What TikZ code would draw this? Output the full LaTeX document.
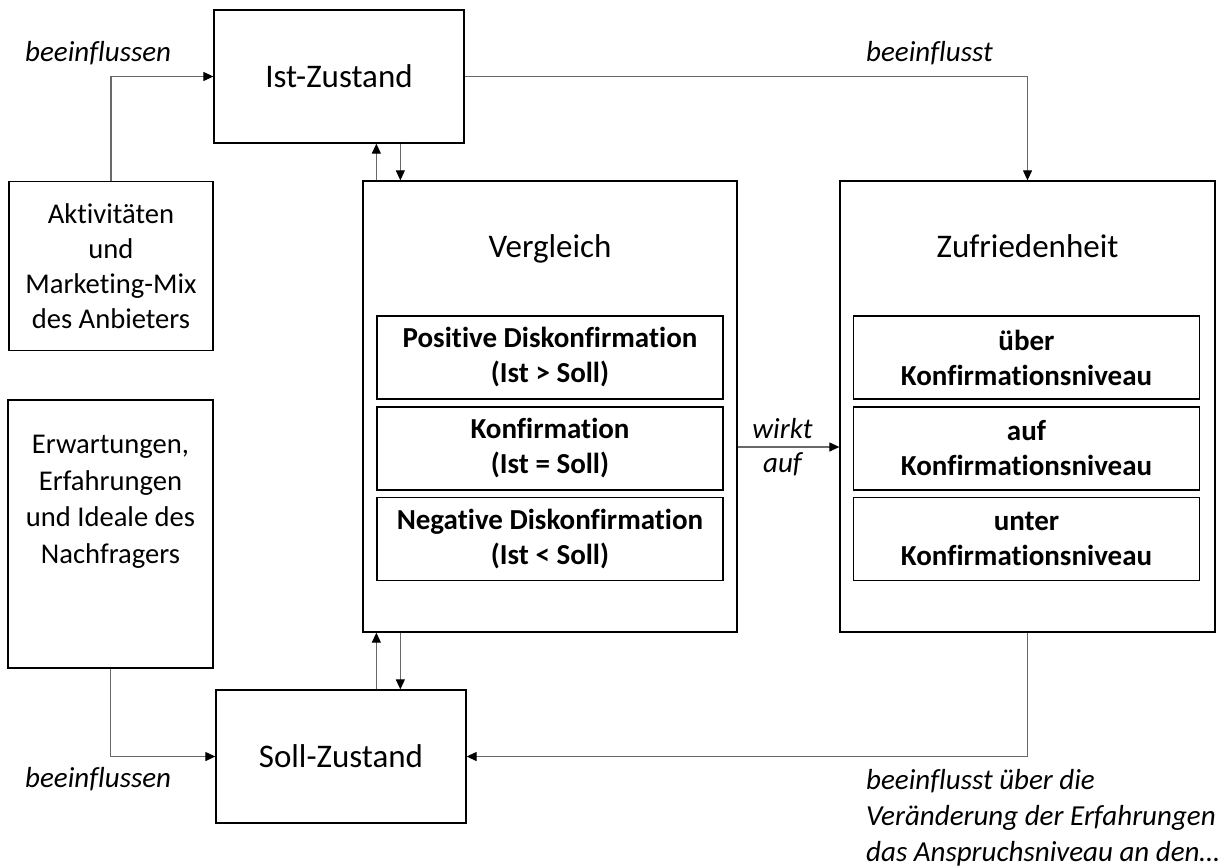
\documentclass[tikz,border=0pt]{standalone}
\usepackage{fontspec}
\setmainfont{Carlito}[Ligatures=NoCommon]
\usetikzlibrary{arrows.meta,calc}
\definecolor{linegray}{RGB}{105,105,105}
\begin{document}
\begin{tikzpicture}[x=1pt,y=-1pt,
  box/.style={draw=black,line width=1.3pt,rectangle,inner sep=0pt,align=center,
    font=\fontsize{28.6}{35}\selectfont},
  bigbox/.style={box,font=\fontsize{33}{40}\selectfont},
  txt/.style={inner sep=0pt,align=center,font=\fontsize{28.6}{36.5}\selectfont},
  title/.style={inner sep=0pt,anchor=base,font=\fontsize{33}{40}\selectfont},
  innerbox/.style={box,font=\fontsize{29}{35}\selectfont\bfseries,
    minimum width=346pt,minimum height=83pt},
  lbl/.style={inner sep=0pt,font=\fontsize{29}{36}\selectfont\itshape,align=left},
  conn/.style={draw=linegray,line width=1.2pt,
    -{Triangle[length=10pt,width=9pt,color=black]}}
]
\useasboundingbox (0,0) rectangle (1230,867);

% boxes
\node[bigbox,minimum width=250pt,minimum height=133pt] (ist) at (339,76.5) {Ist-Zustand};
\node[bigbox,minimum width=250pt,minimum height=133pt] (soll) at (341,756.5) {Soll-Zustand};
\node[box,minimum width=204pt,minimum height=169pt] (akt) at (111,266)
  {Aktivitäten\\und\\Marketing-Mix\\des Anbieters};
\node[box,minimum width=205pt,minimum height=268pt] (erw) at (110.5,534) {};
\node[txt] (erwt) at (110.5,502)
  {Erwartungen,\\Erfahrungen\\und Ideale des\\Nachfragers};
\node[box,minimum width=374pt,minimum height=451pt] (verg) at (550,406.5) {};
\node[box,minimum width=375pt,minimum height=451pt] (zuf) at (1027.5,406.5) {};
\node[title] (vergt) at (550,257) {Vergleich};
\node[title] (zuft) at (1027.5,257) {Zufriedenheit};

\node[innerbox] (v1) at (550,357.5) {Positive Diskonfirmation\\(Ist > Soll)};
\node[innerbox] (v2) at (550,448.5) {Konfirmation\\(Ist = Soll)};
\node[innerbox] (v3) at (550,539) {Negative Diskonfirmation\\(Ist < Soll)};
\node[innerbox] (z1) at (1026.5,357.5) {über\\Konfirmationsniveau};
\node[innerbox] (z2) at (1026.5,448.5) {auf\\Konfirmationsniveau};
\node[innerbox] (z3) at (1026.5,539) {unter\\Konfirmationsniveau};

% helper coordinates
\coordinate (vu) at ($(verg.north west)+(14,0)$);
\coordinate (vd) at ($(verg.north west)+(38,0)$);
\coordinate (bu) at ($(verg.south west)+(14,0)$);
\coordinate (bd) at ($(verg.south west)+(38,0)$);

% connectors
\draw[conn] (akt.north) |- (ist.west);
\draw[conn] (ist.east) -| (zuf.north);
\draw[conn] (vu) -- (vu |- ist.south);
\draw[conn] (vd |- ist.south) -- (vd);
\draw[conn] (bu |- soll.north) -- (bu);
\draw[conn] (bd) -- (bd |- soll.north);
\draw[conn] (erw.south) |- (soll.west);
\draw[conn] (zuf.south) |- (soll.east);
\draw[conn] (verg.east |- 0,447) -- node[lbl,above=8pt,xshift=-6pt] {wirkt} node[lbl,below=5pt,xshift=-6pt] {auf} (zuf.west |- 0,447);

% labels
\node[lbl,anchor=base west] (l1) at (25,62) {beeinflussen};
\node[lbl,anchor=base west] (l2) at (866,62) {beeinflusst};
\node[lbl,anchor=base west] (l3) at (25,787) {beeinflussen};
\node[lbl,anchor=north west] (l4) at (866,769)
  {beeinflusst über die\\Veränderung der Erfahrungen\\das Anspruchsniveau an den\dots};
\end{tikzpicture}
\end{document}
